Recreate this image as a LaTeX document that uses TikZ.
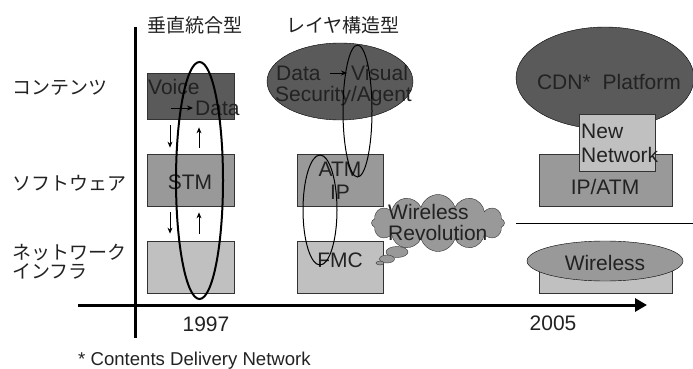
\documentclass[tikz,border=0pt]{standalone}
\usepackage{fontspec}
\setmainfont{Liberation Sans}
\newfontfamily\jpfont{Noto Sans CJK JP}
\usetikzlibrary{shapes.geometric, shapes.symbols, positioning, arrows.meta}

\tikzset{
  caixa/.style={draw=black!80, line width=0.8pt, inner sep=0pt},
  laco/.style={ellipse, draw=black, line width=1pt, inner sep=0pt},
  rotulo/.style={font=\fontsize{21}{23}\selectfont, text=texto, inner sep=0pt},
  camada/.style={font=\jpfont\fontsize{19}{20}\selectfont, text=texto, inner sep=0pt, anchor=west, align=left},
  seta/.style={-{Stealth[length=6pt,width=5pt]}, line width=0.8pt},
}

\begin{document}
\begin{tikzpicture}[x=1pt, y=-1pt]
% --- CORES EM TONS DE CINZA ---
\definecolor{escuro}{HTML}{5A5A5A}
\definecolor{medio}{HTML}{999999}
\definecolor{claro}{HTML}{C0C0C0}
\definecolor{texto}{HTML}{222222}

\useasboundingbox (0,0) rectangle (693,369);

% LAYER 1: Eixos
\coordinate (eixoTopo) at (135,27);
\coordinate (eixoBase) at (135,338);
\coordinate (eixoIni) at (78,305);
\coordinate (eixoFim) at (647,305);
\draw[line width=3pt] (eixoTopo) -- (eixoBase);
\draw[line width=3pt, -{Triangle[length=12pt,width=13pt]}] (eixoIni) -- (eixoFim);

% Titulos das colunas e das camadas
\node[camada, anchor=center] (vertical) at (195,25) {垂直統合型};
\node[camada, anchor=center] (camadas) at (343,25) {レイヤ構造型};
\node[camada] (conteudo) at (12,88) {コンテンツ};
\node[camada] (software) at (12,183) {ソフトウェア};
\node[camada, font=\jpfont\fontsize{19}{19}\selectfont] (rede) at (12,262) {ネットワーク\\インフラ};

% LAYER 2: Coluna 1997
\node[caixa, fill=escuro, minimum width=87pt, minimum height=46pt] (voicebox) at (190.5,96) {};
\node[caixa, fill=medio, minimum width=87pt, minimum height=52pt] (stmbox) at (190.5,180) {};
\node[caixa, fill=claro, minimum width=87pt, minimum height=52pt] (infra1) at (190.5,267) {};
\node[rotulo, anchor=west] (voice) at (148,87) {Voice};
\node[rotulo, anchor=west] (dataV) at (195,108) {Data};
\coordinate (setaV) at (171,108);
\draw[seta, shorten >=2pt] (setaV) -- (dataV.west);
\node[rotulo] (stm) at (190,182) {STM};

% LAYER 3: Coluna de camadas
\node[ellipse, draw=black, fill=escuro, minimum width=146pt, minimum height=77pt, inner sep=0pt] (conteudo2) at (340,81.5) {};
\node[rotulo, anchor=west] (dataA) at (276,73) {Data};
\node[rotulo, anchor=west] (visual) at (351,73) {Visual};
\node[rotulo, anchor=west] (secag) at (275,96) {Security/Agent};
\draw[seta, shorten <=9pt, shorten >=4pt] (dataA.east) -- (visual.west);
\node[caixa, fill=medio, minimum width=86pt, minimum height=52pt] (atmbox) at (340,180) {};
\node[caixa, fill=claro, minimum width=86pt, minimum height=52pt] (fmcbox) at (340,267) {};
\node[rotulo, align=center] (atmip) at (340,181) {ATM\\IP};
\node[rotulo] (fmc) at (340,260) {FMC};

% Nuvem e bolhas
\node[cloud, cloud puffs=12, aspect=2.3, draw=black!80, fill=medio, minimum width=133pt, minimum height=57pt, inner sep=0pt] (nuvem) at (438,223) {};
\node[ellipse, draw=black!80, fill=medio, minimum width=22pt, minimum height=11pt, inner sep=0pt] (bolha1) at (397,252) {};
\node[ellipse, draw=black!80, fill=medio, minimum width=15pt, minimum height=8pt, inner sep=0pt] (bolha2) at (387,259) {};
\node[ellipse, draw=black!80, fill=medio, minimum width=8pt, minimum height=4pt, inner sep=0pt] (bolha3) at (380,263) {};
\node[rotulo, anchor=west, align=left, font=\fontsize{21}{21}\selectfont] (revolucao) at (388,222.5) {Wireless\\Revolution};

% LAYER 4: Coluna 2005
\node[ellipse, draw=black, fill=escuro, minimum width=178pt, minimum height=102pt, inner sep=0pt] (cdn) at (605,78) {};
\node[rotulo] (cdntxt) at (609,82) {CDN*\hspace{12pt}Platform};
\node[caixa, fill=medio, minimum width=133pt, minimum height=52pt] (ipatmbox) at (605.5,180) {};
\node[caixa, fill=claro, minimum width=76pt, minimum height=57pt] (newbox) at (617,142.5) {};
\node[rotulo, anchor=west, align=left, font=\fontsize{21}{24}\selectfont] (newnet) at (581,143) {New\\Network};
\node[rotulo] (ipatm) at (605,187) {IP/ATM};
\coordinate (sepIni) at (516,223);
\coordinate (sepFim) at (693,223);
\draw[line width=1pt] (sepIni) -- (sepFim);
\node[caixa, fill=claro, minimum width=133pt, minimum height=32pt] (infra3) at (605.5,277) {};
\node[ellipse, draw=black, fill=medio, minimum width=156pt, minimum height=40pt, inner sep=0pt] (wireless) at (605,261) {};
\node[rotulo] (wtxt) at (605,263) {Wireless};

% LAYER 5: Lacos sobre as camadas
\node[laco, line width=2pt, minimum width=47pt, minimum height=237pt] (laco1) at (199.5,180.5) {};
\node[laco, minimum width=29pt, minimum height=132pt] (laco2) at (357.5,111) {};
\node[laco, minimum width=34pt, minimum height=110pt] (laco3) at (320,210) {};

% Setas entre camadas
\draw[seta, shorten <=6pt, shorten >=6pt] ([xshift=-20.5pt]voicebox.south) -- ([xshift=-20.5pt]stmbox.north);
\draw[seta, shorten <=6pt, shorten >=8pt] ([xshift=8.5pt]stmbox.north) -- ([xshift=8.5pt]voicebox.south);
\draw[seta, shorten <=6pt, shorten >=7pt] ([xshift=-20.5pt]stmbox.south) -- ([xshift=-20.5pt]infra1.north);
\draw[seta, shorten <=7pt, shorten >=6pt] ([xshift=8.5pt]infra1.north) -- ([xshift=8.5pt]stmbox.south);

% Anos e nota
\node[rotulo] (ano1) at (206,324) {1997};
\node[rotulo] (ano2) at (553,323) {2005};
\node[rotulo, anchor=west, font=\fontsize{18.6}{19}\selectfont] (nota) at (78,361) {* Contents Delivery Network};
\end{tikzpicture}
\end{document}
